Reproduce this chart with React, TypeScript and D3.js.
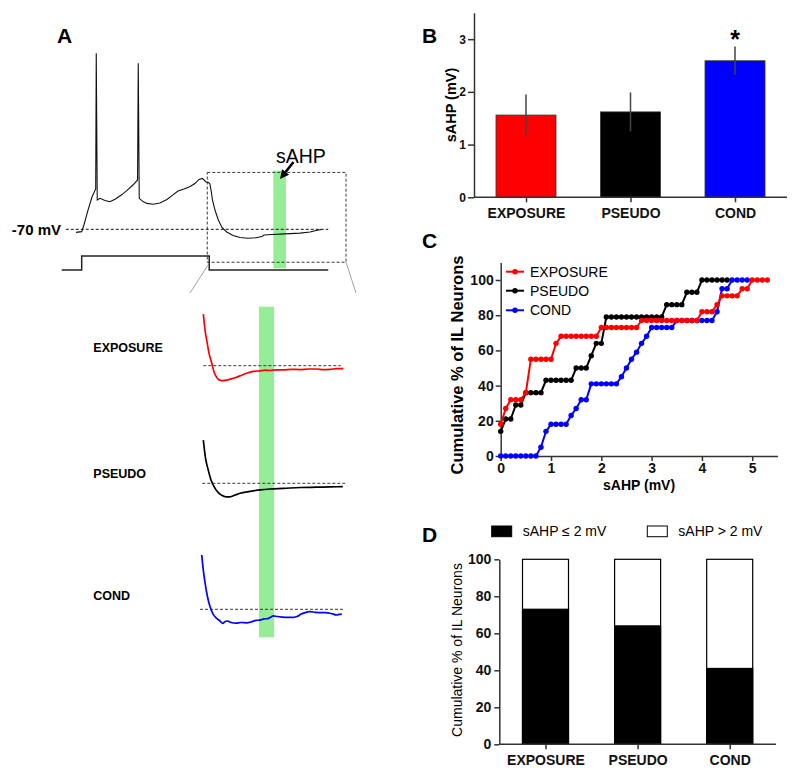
import React, { useEffect, useRef } from 'react';
import * as d3 from 'd3';

const FONT = "'Liberation Sans', Arial, sans-serif";

// Panel B - mean sAHP (mV) with SEM
const groups = ['EXPOSURE', 'PSEUDO', 'COND'];
const groupColors = ['#ff0000', '#000000', '#0000ff'];
const sahpMean = [1.56, 1.62, 2.59];
const sahpSem = [0.39, 0.37, 0.27];
const sahpTicks = [0, 1, 2, 3];

// Panel C - cumulative % of neurons, sampled every 0.1 mV from 0
const binStep = 0.1;
const cumExposure = [18, 27, 32, 32, 32, 36, 55, 55, 55, 55, 55, 64, 68, 68, 68, 68, 68, 68, 68, 68,
  73, 73, 73, 73, 73, 73, 73, 73, 77, 77, 77, 77, 77, 77, 77, 77, 77, 77, 77, 77,
  82, 82, 82, 86, 91, 91, 91, 91, 95, 95, 100, 100, 100, 100];
const cumPseudo = [14, 21, 21, 29, 29, 36, 36, 36, 36, 43, 43, 43, 43, 43, 43, 50, 50, 50, 57, 64, 64,
  79, 79, 79, 79, 79, 79, 79, 79, 79, 79, 79, 79, 86, 86, 86, 86, 93, 93, 93,
  100, 100, 100, 100, 100, 100];
const cumCond = [0, 0, 0, 0, 0, 0, 0, 0, 5, 14, 18, 18, 18, 18, 23, 27, 32, 32, 41, 41, 41, 41, 41, 41,
  45, 50, 55, 59, 64, 68, 73, 73, 73, 73, 73, 77, 77, 77, 77, 77, 77, 77, 77,
  82, 95, 95, 100, 100, 100, 100];
const cumTicksX = [0, 1, 2, 3, 4, 5];
const cumTicksY = [0, 20, 40, 60, 80, 100];

// Panel D - % of neurons with sAHP <= 2 mV
const pctBelow2 = [73, 64, 41];
const pctTicks = [0, 20, 40, 60, 80, 100];
const legendD = ['sAHP \u2264 2 mV', 'sAHP > 2 mV'];

// Panel A - example recording [time ms, membrane mV]
const mainTrace = [
  [114, -71.7], [155, -71.3], [171, -67.6], [200, -59.3], [229, -51.9], [255, -47.6], [259, 27.8],
  [266, -53.7], [286, -52.8], [321, -54], [357, -54.7], [393, -53.3], [443, -50.7], [479, -48.4],
  [521, -45.4], [554, -42.6], [559, 22.2], [566, -52.8], [593, -54.6], [621, -55.6], [664, -56.1],
  [714, -55.4], [764, -53.4], [807, -50.9], [843, -48.7], [886, -47.6], [929, -46.2], [964, -44.6],
  [993, -42.3], [1018, -41.7], [1043, -43.7], [1061, -44], [1071, -44.8], [1079, -48.2], [1089, -53.7],
  [1107, -59.3], [1131, -64.8], [1157, -69], [1191, -71.5], [1236, -73.4], [1286, -74.6], [1343, -75],
  [1400, -74.7], [1443, -74], [1457, -73.2], [1514, -72.9], [1571, -72.7], [1643, -72.4], [1714, -72.1],
  [1786, -71.5], [1829, -70.7], [1869, -70.1],
];
const stepCurrent = [[12, 0], [155, 0], [155, 1], [1066, 1], [1066, 0], [1916, 0]];

// expanded sAHP window per group [time ms, mV]
const traceExposure = [
  [23, -52.8], [35, -58.2], [46, -61.4], [62, -65.8], [81, -69.2], [97, -72.1], [115, -73.9], [135, -74.8],
  [157, -75], [186, -74.8], [230, -74.2], [276, -73.4], [322, -72.5], [366, -71.9], [414, -71.7],
  [450, -71.5], [483, -71.6], [530, -71.4], [575, -71.4], [630, -71.2], [690, -71.3], [750, -71.1],
  [805, -71.1], [850, -71.3], [897, -71.2], [945, -71], [989, -71],
];
const tracePseudo = [
  [23, -55.6], [38, -61.6], [57, -65.6], [76, -68.9], [104, -71.7], [128, -73.2], [150, -74], [179, -74.5],
  [207, -74.5], [242, -73.9], [276, -73.3], [345, -72.7], [414, -72.2], [483, -71.9], [575, -71.7],
  [690, -71.4], [805, -71.3], [897, -71.2], [985, -71.1],
];
const traceCond = [
  [12, -51.9], [21, -56.2], [35, -61.3], [52, -65.9], [69, -69.1], [90, -71.6], [115, -73], [138, -73.9],
  [157, -74.7], [173, -74.1], [190, -73.9], [214, -74.4], [248, -74.6], [283, -74.4], [322, -74.5],
  [359, -74.1], [386, -73.7], [414, -73.6], [442, -73.2], [469, -73.1], [506, -72.2], [531, -72.4],
  [566, -72.6], [598, -72.7], [635, -72.7], [669, -72.4], [697, -71.6], [725, -71.1], [759, -70.8],
  [794, -71], [828, -71.1], [869, -71.1], [904, -71.4], [943, -71.9], [959, -71.7], [978, -71.6],
];
const subTraces = [traceExposure, tracePseudo, traceCond];

const App = () => {
  const svgRef = useRef<SVGSVGElement>(null);

  useEffect(() => {
    const svg = d3.select(svgRef.current);
    svg.selectAll('*').remove();

    const panelLetter = (x: number, y: number, t: string) =>
      svg.append('text').attr('x', x).attr('y', y).text(t)
        .style('font-family', FONT).style('font-size', '21px').style('font-weight', 'bold');

    const styleAxis = (g: any, fontSize: number) => {
      g.select('.domain').attr('stroke', '#333').attr('stroke-width', 1.5);
      g.selectAll('.tick line').attr('stroke', '#333').attr('stroke-width', 1.5);
      g.selectAll('.tick text')
        .style('font-family', FONT).style('font-size', `${fontSize}px`)
        .style('font-weight', 'bold').attr('fill', '#111');
    };
    const intFmt = d3.format('d');

    // ---------- Panel A ----------
    panelLetter(57, 43, 'A');
    const xA = d3.scaleLinear().domain([0, 2000]).range([60, 340]);
    const yA = d3.scaleLinear().domain([-70, 0]).range([229.3, 103.3]);
    const yI = d3.scaleLinear().domain([0, 1]).range([270, 256]);

    // zoom box and green window
    svg.append('rect')
      .attr('x', xA(1524)).attr('y', yA(-37.4))
      .attr('width', xA(1614) - xA(1524)).attr('height', yA(-91.7) - yA(-37.4))
      .attr('fill', '#95ee95');
    svg.append('rect')
      .attr('x', xA(1052)).attr('y', yA(-38.4))
      .attr('width', xA(2043) - xA(1052)).attr('height', yA(-88.3) - yA(-38.4))
      .attr('fill', 'none').attr('stroke', '#222').attr('stroke-width', 0.9).attr('stroke-dasharray', '3,2');
    svg.append('line')
      .attr('x1', xA(41)).attr('x2', xA(1916)).attr('y1', yA(-70)).attr('y2', yA(-70))
      .attr('stroke', '#111').attr('stroke-width', 1).attr('stroke-dasharray', '3,2');

    const lineA = d3.line<number[]>().x(d => xA(d[0])).y(d => yA(d[1]));
    svg.append('path').attr('d', lineA(mainTrace as any))
      .attr('fill', 'none').attr('stroke', '#111').attr('stroke-width', 1.1);
    const lineI = d3.line<number[]>().x(d => xA(d[0])).y(d => yI(d[1]));
    svg.append('path').attr('d', lineI(stepCurrent as any))
      .attr('fill', 'none').attr('stroke', '#222').attr('stroke-width', 1.5);

    // expansion lines
    [[xA(1066), yA(-88.3) + 1, 190, 293], [xA(2043), yA(-88.3), 356, 293]].forEach(([x1, y1, x2, y2]) => {
      svg.append('line').attr('x1', x1).attr('y1', y1).attr('x2', x2).attr('y2', y2)
        .attr('stroke', '#777').attr('stroke-width', 0.7);
    });

    svg.append('text').attr('x', 61).attr('y', yA(-70) + 5.5).attr('text-anchor', 'end').text('-70 mV')
      .style('font-family', FONT).style('font-size', '15px').style('font-weight', 'bold');
    svg.append('text').attr('x', 276).attr('y', 163).text('sAHP')
      .style('font-family', FONT).style('font-size', '19.5px');

    // arrow
    const tip = [280, 179];
    const tail = [293.5, 162];
    const len = Math.hypot(tail[0] - tip[0], tail[1] - tip[1]);
    const ux = (tip[0] - tail[0]) / len;
    const uy = (tip[1] - tail[1]) / len;
    const bx = tip[0] - ux * 9;
    const by = tip[1] - uy * 9;
    svg.append('line').attr('x1', tail[0]).attr('y1', tail[1]).attr('x2', bx).attr('y2', by)
      .attr('stroke', '#000').attr('stroke-width', 2.6);
    svg.append('polygon')
      .attr('points', [[tip[0], tip[1]], [bx - uy * 4.5, by + ux * 4.5], [bx + uy * 4.5, by - ux * 4.5]].map(p => p.join(',')).join(' '))
      .attr('fill', '#000');

    // expanded traces
    const xS = d3.scaleLinear().domain([0, 1000]).range([200, 345]);
    svg.append('rect')
      .attr('x', xS(407)).attr('y', 306.7).attr('width', xS(511) - xS(407)).attr('height', 330.6)
      .attr('fill', '#95ee95');
    const subBases = [365.7, 483.3, 609.3];
    const dashStarts = [23, 16, 0];
    const dashEnds = [971, 1000, 989];
    const labelY = [347.7, 473.7, 596];
    groups.forEach((g, i) => {
      const yS = d3.scaleLinear().domain([-70, -60]).range([subBases[i], subBases[i] - 30]);
      svg.append('line')
        .attr('x1', xS(dashStarts[i])).attr('x2', xS(dashEnds[i])).attr('y1', yS(-70)).attr('y2', yS(-70))
        .attr('stroke', '#222').attr('stroke-width', 0.9).attr('stroke-dasharray', '3,2');
      const l = d3.line<number[]>().x(d => xS(d[0])).y(d => yS(d[1])).curve(d3.curveMonotoneX);
      svg.append('path').attr('d', l(subTraces[i] as any))
        .attr('fill', 'none').attr('stroke', groupColors[i]).attr('stroke-width', 1.7);
      svg.append('text').attr('x', 93.3).attr('y', labelY[i]).attr('dy', '0.35em').text(g)
        .style('font-family', FONT).style('font-size', '12.5px').style('font-weight', 'bold');
    });

    // ---------- Panel B ----------
    panelLetter(422, 43, 'B');
    const xB = d3.scalePoint().domain(groups).range([526, 735]);
    const yB = d3.scaleLinear().domain([0, 3.5]).range([197.3, 12.8]);
    const barWB = 60;
    svg.selectAll('.bar-b').data(groups).enter().append('rect')
      .attr('x', d => (xB(d) as number) - barWB / 2)
      .attr('width', barWB)
      .attr('y', (d, i) => yB(sahpMean[i]))
      .attr('height', (d, i) => yB(0) - yB(sahpMean[i]))
      .attr('fill', (d, i) => groupColors[i])
      .attr('stroke', '#333').attr('stroke-width', 0.8);
    svg.selectAll('.err-b').data(groups).enter().append('line')
      .attr('x1', d => xB(d) as number).attr('x2', d => xB(d) as number)
      .attr('y1', (d, i) => yB(sahpMean[i] - sahpSem[i]))
      .attr('y2', (d, i) => yB(sahpMean[i] + sahpSem[i]))
      .attr('stroke', '#444').attr('stroke-width', 1.5);
    svg.append('text').attr('x', xB('COND') as number).attr('y', 48).attr('text-anchor', 'middle').text('*')
      .style('font-family', FONT).style('font-size', '25px').style('font-weight', 'bold');

    const gBy = svg.append('g').attr('transform', 'translate(474,0)')
      .call(d3.axisLeft(yB).tickValues(sahpTicks).tickFormat(intFmt as any).tickSize(6).tickPadding(2).tickSizeOuter(0) as any);
    styleAxis(gBy, 12);
    svg.append('line').attr('x1', 474).attr('x2', 787).attr('y1', yB(0)).attr('y2', yB(0))
      .attr('stroke', '#333').attr('stroke-width', 1.5);
    const gBx = svg.append('g').attr('transform', `translate(0,${yB(0)})`)
      .call(d3.axisBottom(xB).tickSize(5).tickPadding(6) as any);
    gBx.select('.domain').remove();
    styleAxis(gBx, 14);
    svg.append('text').attr('transform', 'translate(456,105) rotate(-90)').attr('text-anchor', 'middle')
      .text('sAHP (mV)')
      .style('font-family', FONT).style('font-size', '14.5px').style('font-weight', 'bold');

    // ---------- Panel C ----------
    panelLetter(422, 248, 'C');
    const xC = d3.scaleLinear().domain([0, 5.5]).range([500.7, 777.4]);
    const yC = d3.scaleLinear().domain([0, 110]).range([456, 262.4]);
    const gCy = svg.append('g').attr('transform', 'translate(500.7,0)')
      .call(d3.axisLeft(yC).tickValues(cumTicksY).tickFormat(intFmt as any).tickSize(5).tickPadding(2).tickSizeOuter(0) as any);
    styleAxis(gCy, 14);
    const gCx = svg.append('g').attr('transform', `translate(0,${yC(0)})`)
      .call(d3.axisBottom(xC).tickValues(cumTicksX).tickFormat(intFmt as any).tickSize(5).tickPadding(2).tickSizeOuter(0) as any);
    styleAxis(gCx, 14);

    const series = [
      { name: 'COND', vals: cumCond, color: groupColors[2] },
      { name: 'PSEUDO', vals: cumPseudo, color: groupColors[1] },
      { name: 'EXPOSURE', vals: cumExposure, color: groupColors[0] },
    ];
    const lineC = d3.line<number>().x((d, i) => xC(i * binStep)).y(d => yC(d));
    series.forEach(s => {
      svg.append('path').attr('d', lineC(s.vals))
        .attr('fill', 'none').attr('stroke', s.color).attr('stroke-width', 2);
      svg.selectAll(null).data(s.vals).enter().append('circle')
        .attr('cx', (d, i) => xC(i * binStep)).attr('cy', d => yC(d)).attr('r', 2.7)
        .attr('fill', s.color);
    });

    // legend C
    const legY = [271.7, 290.7, 310.3];
    groups.forEach((g, i) => {
      svg.append('line').attr('x1', 506).attr('x2', 524).attr('y1', legY[i]).attr('y2', legY[i])
        .attr('stroke', groupColors[i]).attr('stroke-width', 2);
      svg.append('circle').attr('cx', 515).attr('cy', legY[i]).attr('r', 2.7).attr('fill', groupColors[i]);
      svg.append('text').attr('x', 530).attr('y', legY[i]).attr('dy', '0.35em').text(g)
        .style('font-family', FONT).style('font-size', '14px');
    });

    svg.append('text').attr('x', xC(2.75)).attr('y', 490).attr('text-anchor', 'middle').text('sAHP (mV)')
      .style('font-family', FONT).style('font-size', '14px').style('font-weight', 'bold');
    svg.append('text').attr('transform', 'translate(463,365) rotate(-90)').attr('text-anchor', 'middle')
      .text('Cumulative % of IL Neurons')
      .style('font-family', FONT).style('font-size', '16.5px').style('font-weight', 'bold');

    // ---------- Panel D ----------
    panelLetter(422, 542, 'D');
    const xD = d3.scalePoint().domain(groups).range([545.5, 729.7]);
    const yD = d3.scaleLinear().domain([0, 100]).range([744.3, 559.3]);
    const barWD = 46;
    svg.selectAll('.bar-d-total').data(groups).enter().append('rect')
      .attr('x', d => (xD(d) as number) - barWD / 2).attr('width', barWD)
      .attr('y', yD(100)).attr('height', yD(0) - yD(100))
      .attr('fill', '#fff').attr('stroke', '#000').attr('stroke-width', 1.2);
    svg.selectAll('.bar-d-low').data(groups).enter().append('rect')
      .attr('x', d => (xD(d) as number) - barWD / 2).attr('width', barWD)
      .attr('y', (d, i) => yD(pctBelow2[i])).attr('height', (d, i) => yD(0) - yD(pctBelow2[i]))
      .attr('fill', '#000').attr('stroke', '#000').attr('stroke-width', 1.2);

    const gDy = svg.append('g').attr('transform', 'translate(499.3,0)')
      .call(d3.axisLeft(yD).tickValues(pctTicks).tickFormat(intFmt as any).tickSize(5).tickPadding(3).tickSizeOuter(0) as any);
    styleAxis(gDy, 14);
    svg.append('line').attr('x1', 499.3).attr('x2', 776).attr('y1', yD(0)).attr('y2', yD(0))
      .attr('stroke', '#333').attr('stroke-width', 1.5);
    const gDx = svg.append('g').attr('transform', `translate(0,${yD(0)})`)
      .call(d3.axisBottom(xD).tickSize(5).tickPadding(6) as any);
    gDx.select('.domain').remove();
    styleAxis(gDx, 14);
    svg.append('text').attr('transform', 'translate(462,650) rotate(-90)').attr('text-anchor', 'middle')
      .text('Cumulative % of IL Neurons')
      .style('font-family', FONT).style('font-size', '14px');

    // legend D
    const legX = [491.7, 647.3];
    legendD.forEach((t, i) => {
      svg.append('rect').attr('x', legX[i]).attr('y', 526).attr('width', 20).attr('height', 10.7)
        .attr('fill', i === 0 ? '#000' : '#fff').attr('stroke', '#000').attr('stroke-width', 1);
      svg.append('text').attr('x', legX[i] + 31).attr('y', 531.5).attr('dy', '0.35em').text(t)
        .style('font-family', FONT).style('font-size', '14px');
    });
  }, []);

  return (
    <svg ref={svgRef} width={800} height={775}
      style={{ position: 'absolute', left: 0, top: 0, background: '#fff' }} />
  );
};

export default App;
